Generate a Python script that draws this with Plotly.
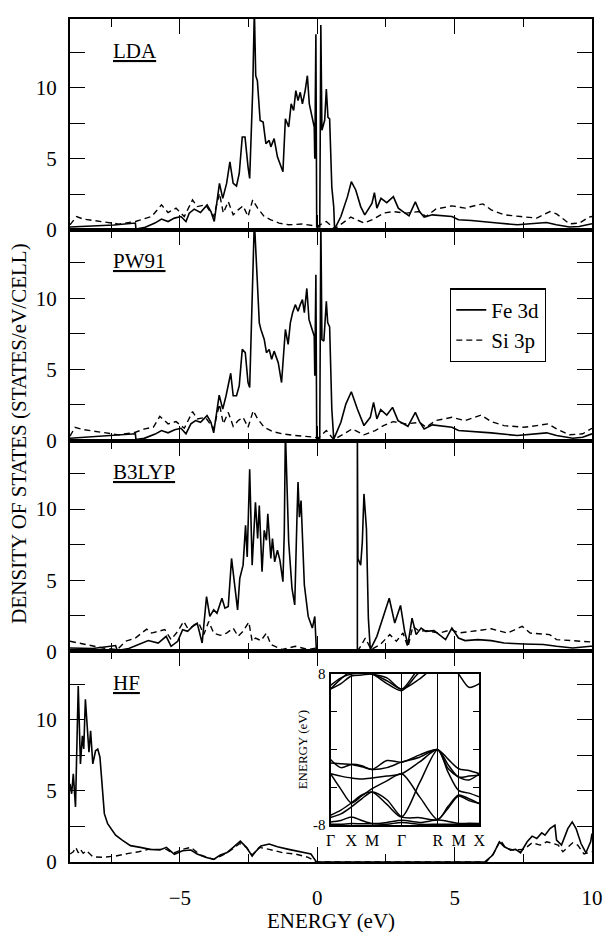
import plotly.graph_objects as go

# ---------------- DATA ----------------
LDA_FE_E = [-9.0, -8.17, -7.4, -6.62, -6.60, -6.3, -5.91, -5.67, -5.43, -5.20, -4.96, -4.78, -4.66, -4.48, -4.25, -4.01, -3.87, -3.75, -3.56, -3.44, -3.30, -3.18, -3.06, -2.94, -2.84, -2.73, -2.63, -2.52, -2.46, -2.35, -2.29, -2.24, -2.18, -2.08, -1.97, -1.87, -1.75, -1.69, -1.57, -1.45, -1.25, -1.16, -1.04, -0.95, -0.86, -0.78, -0.70, -0.62, -0.54, -0.44, -0.36, -0.29, -0.18, -0.11, -0.09, -0.05, -0.02, 0.09, 0.13, 0.17, 0.27, 0.33, 0.39, 0.45, 0.53, 0.60, 0.63, 0.86, 1.10, 1.24, 1.40, 1.58, 1.73, 1.99, 2.08, 2.17, 2.32, 2.53, 2.77, 2.95, 3.12, 3.34, 3.57, 3.72, 3.89, 4.19, 4.90, 5.14, 5.61, 6.09, 6.56, 7.28, 7.75, 8.35, 8.70, 9.18, 9.53, 9.95, 10.0]
LDA_FE_D = [0.19, 0.28, 0.33, 0.47, 0.05, 0.15, 0.47, 0.75, 0.58, 0.82, 0.93, 0.58, 1.17, 1.45, 1.21, 1.75, 1.28, 0.58, 3.26, 2.21, 3.26, 4.78, 3.26, 3.08, 3.96, 6.53, 6.53, 4.43, 3.61, 9.79, 15.5, 10.84, 10.49, 7.69, 7.58, 6.06, 6.29, 5.83, 6.41, 5.13, 4.08, 7.81, 7.23, 8.86, 8.39, 9.79, 9.09, 9.67, 8.86, 9.79, 10.84, 8.86, 7.93, 7.23, 5.0, 13.75, 0.2, 0.2, 14.4, 7.0, 7.7, 9.9, 7.9, 7.8, 3.0, 1.6, 0.05, 0.93, 2.33, 3.38, 2.8, 1.63, 1.05, 1.86, 2.61, 1.52, 2.21, 1.91, 2.33, 1.52, 1.28, 0.98, 1.96, 1.28, 0.89, 1.05, 0.93, 0.70, 0.65, 0.58, 0.47, 0.35, 0.42, 0.51, 0.35, 0.19, 0.23, 0.42, 0.42]
LDA_SI_E = [-9.0, -8.76, -8.52, -7.93, -7.22, -6.62, -6.39, -6.03, -5.67, -5.43, -5.14, -4.84, -4.54, -4.37, -4.07, -3.77, -3.56, -3.42, -3.24, -3.06, -2.88, -2.70, -2.52, -2.35, -2.17, -1.93, -1.69, -1.39, -1.04, -0.56, -0.09, 0.03, 0.33, 0.63, 0.92, 1.22, 1.70, 2.05, 2.41, 2.76, 3.24, 3.72, 3.96, 4.31, 4.90, 5.38, 5.85, 6.03, 6.33, 6.80, 7.40, 7.99, 8.47, 8.71, 9.18, 9.54, 9.89, 10.0]
LDA_SI_D = [0.35, 0.93, 0.75, 0.58, 0.40, 0.58, 0.70, 0.93, 1.75, 1.21, 1.52, 0.93, 2.10, 1.63, 1.75, 0.93, 2.56, 1.17, 1.98, 1.05, 1.40, 1.68, 0.93, 2.10, 1.52, 0.93, 0.70, 0.47, 0.35, 0.40, 0.28, 0.28, 0.58, 0.05, 0.47, 0.89, 0.47, 0.75, 1.17, 1.28, 1.17, 1.28, 0.93, 1.45, 1.68, 1.52, 1.75, 1.82, 1.40, 1.05, 0.93, 0.82, 1.28, 1.12, 0.42, 0.47, 0.89, 0.93]

PW91_FE_E = [-9.0, -8.2, -7.4, -6.62, -6.60, -6.3, -5.9, -5.67, -5.43, -5.19, -4.96, -4.78, -4.60, -4.43, -4.25, -4.01, -3.87, -3.77, -3.57, -3.44, -3.32, -3.15, -3.06, -2.94, -2.84, -2.73, -2.62, -2.52, -2.46, -2.35, -2.29, -2.19, -2.11, -2.05, -1.93, -1.85, -1.75, -1.66, -1.57, -1.42, -1.30, -1.16, -1.06, -0.98, -0.90, -0.80, -0.70, -0.62, -0.54, -0.47, -0.38, -0.30, -0.18, -0.11, -0.09, -0.05, -0.02, 0.09, 0.13, 0.17, 0.24, 0.33, 0.38, 0.45, 0.53, 0.60, 0.86, 1.04, 1.24, 1.46, 1.70, 1.93, 2.05, 2.17, 2.31, 2.53, 2.74, 2.94, 3.30, 3.57, 3.72, 3.89, 4.19, 4.90, 5.14, 5.85, 6.33, 7.28, 7.87, 8.35, 8.71, 9.30, 9.66, 10.0]
PW91_FE_D = [0.16, 0.25, 0.33, 0.47, 0.07, 0.15, 0.45, 0.70, 0.54, 0.75, 0.86, 0.47, 1.17, 1.40, 1.28, 1.75, 1.28, 0.54, 3.19, 2.21, 3.15, 4.73, 3.15, 3.15, 3.85, 6.41, 6.18, 4.08, 3.73, 10.6, 15.5, 11.5, 8.28, 7.81, 7.11, 6.18, 6.41, 5.71, 6.29, 5.48, 4.08, 7.81, 6.76, 8.28, 8.97, 9.56, 9.09, 9.56, 9.91, 9.0, 10.7, 8.5, 7.81, 7.34, 4.55, 11.66, 0.16, 0.16, 15.5, 7.1, 7.0, 9.79, 8.3, 8.0, 2.2, 0.1, 1.28, 2.56, 3.43, 2.21, 1.05, 1.63, 2.68, 1.52, 2.17, 1.79, 2.33, 1.40, 1.0, 1.98, 1.33, 0.82, 1.10, 0.93, 0.70, 0.63, 0.54, 0.35, 0.47, 0.54, 0.35, 0.16, 0.23, 0.47]
PW91_SI_E = [-9.0, -8.82, -8.52, -7.93, -7.22, -6.62, -6.27, -5.97, -5.73, -5.43, -5.14, -4.84, -4.54, -4.37, -4.07, -3.77, -3.56, -3.42, -3.24, -3.06, -2.88, -2.70, -2.52, -2.33, -2.17, -1.93, -1.63, -1.28, -0.80, -0.09, 0.03, 0.33, 0.60, 0.98, 1.27, 1.70, 2.11, 2.41, 2.76, 3.24, 3.72, 3.96, 4.31, 4.90, 5.38, 5.97, 6.33, 6.80, 7.52, 7.99, 8.41, 8.71, 9.18, 9.66, 10.0]
PW91_SI_D = [0.30, 0.93, 0.77, 0.58, 0.40, 0.58, 0.82, 0.93, 1.70, 1.17, 1.33, 0.86, 2.03, 1.52, 1.63, 0.82, 2.56, 1.17, 1.98, 1.0, 1.40, 1.63, 0.93, 2.10, 1.52, 0.93, 0.63, 0.47, 0.35, 0.23, 0.16, 0.70, 0.07, 0.47, 0.82, 0.40, 0.70, 1.05, 1.33, 1.17, 1.28, 0.93, 1.40, 1.63, 1.40, 1.79, 1.33, 1.05, 0.93, 1.05, 1.17, 0.82, 0.40, 0.47, 0.86]

B3LYP_FE_E = [-9.0, -8.17, -7.34, -7.28, -6.86, -6.50, -6.15, -5.79, -5.50, -5.32, -5.08, -4.90, -4.72, -4.48, -4.37, -4.19, -4.03, -3.91, -3.77, -3.65, -3.47, -3.36, -3.24, -3.12, -3.0, -2.90, -2.82, -2.70, -2.61, -2.55, -2.46, -2.37, -2.25, -2.17, -2.11, -2.01, -1.93, -1.85, -1.80, -1.69, -1.63, -1.55, -1.45, -1.36, -1.25, -1.20, -1.16, -1.04, -0.92, -0.82, -0.74, -0.70, -0.65, -0.59, -0.47, -0.33, -0.18, -0.09, -0.03, 1.46, 1.46, 1.48, 1.58, 1.64, 1.70, 1.75, 1.79, 1.86, 1.93, 2.17, 2.41, 2.62, 2.82, 3.03, 3.18, 3.30, 3.45, 3.60, 3.78, 3.95, 4.25, 4.43, 4.67, 4.90, 5.14, 5.38, 5.85, 6.33, 6.80, 7.52, 8.23, 8.71, 9.30, 9.95, 10.0]
B3LYP_FE_D = [0.23, 0.19, 0.40, 0.05, 0.19, 0.47, 0.75, 0.58, 1.05, 0.35, 0.70, 1.52, 1.40, 1.86, 1.98, 0.58, 3.85, 2.45, 2.91, 2.68, 3.73, 3.03, 3.15, 6.53, 4.43, 2.91, 5.13, 6.06, 8.86, 6.64, 12.8, 6.06, 10.49, 7.93, 10.26, 5.59, 8.51, 7.81, 9.67, 6.53, 7.93, 6.29, 7.11, 6.41, 4.9, 8.39, 15.5, 7.69, 4.43, 3.26, 9.32, 11.9, 9.44, 10.6, 4.66, 2.45, 1.63, 2.45, 0.0, 0.0, 15.5, 6.53, 6.06, 7.69, 11.07, 9.32, 8.62, 2.33, 0.12, 1.05, 2.56, 3.73, 1.98, 3.22, 1.40, 0.47, 2.33, 1.17, 1.63, 1.40, 1.45, 1.17, 0.82, 1.63, 0.93, 0.75, 0.82, 0.75, 0.58, 0.51, 0.47, 0.35, 0.23, 0.35, 0.35]
B3LYP_SI_E = [-9.0, -8.41, -7.81, -7.28, -6.98, -6.62, -6.21, -6.03, -5.79, -5.55, -5.32, -5.08, -4.86, -4.72, -4.54, -4.31, -4.13, -3.95, -3.77, -3.53, -3.30, -3.06, -2.88, -2.70, -2.49, -2.37, -2.25, -2.05, -1.85, -1.69, -1.28, -0.80, -0.33, -0.03, 0.0, 1.46, 1.58, 1.75, 1.96, 2.29, 2.64, 2.88, 3.12, 3.30, 3.48, 3.72, 3.95, 4.43, 4.90, 5.14, 5.61, 6.33, 6.92, 7.46, 7.75, 8.46, 8.71, 9.30, 9.95, 10.0]
B3LYP_SI_D = [0.70, 0.47, 0.23, 0.12, 0.70, 0.93, 1.56, 1.28, 1.40, 1.52, 0.82, 1.40, 2.10, 1.63, 1.75, 1.98, 1.17, 2.10, 1.28, 1.12, 1.28, 1.63, 1.05, 1.40, 2.05, 0.70, 0.93, 0.75, 1.28, 0.47, 0.12, 0.35, 0.12, 0.23, 0.0, 0.0, 0.35, 0.93, 0.12, 0.47, 1.17, 0.70, 1.28, 0.28, 1.75, 1.40, 1.45, 1.28, 1.52, 1.28, 1.40, 1.58, 1.28, 1.75, 1.28, 1.17, 0.82, 0.75, 0.65, 0.65]

HF_FE_E = [-9.0, -8.94, -8.88, -8.80, -8.70, -8.62, -8.55, -8.50, -8.44, -8.35, -8.31, -8.25, -8.17, -8.07, -7.99, -7.91, -7.84, -7.75, -7.63, -7.51, -7.34, -7.10, -6.80, -6.44, -6.09, -5.73, -5.49, -5.20, -4.90, -4.60, -4.37, -4.07, -3.77, -3.53, -3.30, -3.06, -2.80, -2.58, -2.37, -2.25, -2.05, -1.75, -1.45, -1.04, -0.56, -0.23, -0.03, 6.09, 6.39, 6.63, 6.81, 7.04, 7.22, 7.40, 7.64, 7.82, 7.99, 8.17, 8.29, 8.47, 8.65, 8.71, 8.89, 9.12, 9.28, 9.42, 9.60, 9.78, 9.95, 10.0]
HF_FE_D = [5.5, 4.8, 6.2, 3.87, 12.38, 6.9, 8.88, 7.95, 11.45, 9.23, 7.72, 9.23, 6.90, 7.83, 7.95, 7.37, 5.5, 3.4, 2.70, 2.35, 1.89, 1.54, 1.15, 1.03, 0.89, 0.84, 1.03, 0.54, 0.79, 0.84, 0.56, 0.33, 0.19, 0.49, 0.65, 1.03, 1.47, 1.03, 0.42, 0.72, 1.12, 1.26, 1.07, 0.89, 0.72, 0.56, 0.0, 0.0, 0.49, 1.42, 1.07, 0.84, 0.89, 0.65, 1.42, 1.82, 1.65, 2.05, 1.89, 2.35, 2.59, 1.54, 1.19, 2.35, 2.82, 2.35, 1.30, 0.65, 1.42, 2.0]
HF_SI_E = [-9.0, -8.88, -8.79, -8.70, -8.62, -8.52, -8.40, -8.17, -7.81, -7.34, -6.86, -6.50, -6.15, -5.79, -5.49, -5.26, -4.90, -4.60, -4.25, -3.77, -3.30, -2.82, -2.58, -2.37, -2.11, -1.75, -1.25, -0.80, -0.33, -0.03, 6.15, 6.42, 6.67, 6.86, 7.16, 7.52, 7.82, 8.11, 8.35, 8.59, 8.77, 8.94, 9.30, 9.48, 9.71, 10.0]
HF_SI_D = [0.56, 0.72, 1.03, 0.65, 0.89, 0.61, 0.79, 0.37, 0.33, 0.42, 0.61, 0.72, 0.89, 0.89, 0.89, 0.61, 0.89, 1.03, 0.49, 0.19, 0.61, 1.30, 1.03, 0.49, 1.03, 0.89, 0.65, 0.56, 0.33, 0.0, 0.0, 0.61, 1.54, 0.96, 0.84, 0.89, 1.35, 1.19, 1.42, 1.30, 1.19, 0.72, 1.35, 1.19, 0.56, 0.72]

PANEL_NAMES = ["LDA", "PW91", "B3LYP", "HF"]
SERIES_NAMES = ["Fe 3d", "Si 3p"]
X_TICKS = [-5, 0, 5, 10]
X_MINOR = [-7.5, -2.5, 2.5, 7.5]
Y_TICKS = [0, 2.5, 5, 7.5, 10, 12.5]
Y_TICKTEXT = ["0", "", "5", "", "10", ""]

# inset band structure
K_NODES = [0.0, 0.25, 0.5, 0.75, 1.0, 1.354, 1.707, 2.14, 2.573, 2.823, 3.073, 3.323, 3.573]
K_SYM = [0.0, 0.5, 1.0, 1.707, 2.573, 3.073, 3.573]
K_LABELS = ["Γ", "X", "M", "Γ", "R", "M", "X"]
BANDS = [
    [-1.04, -1.9, -1.56, -1.7, -2.09, -1.15, -1.32, -0.55, 0.0, -1.0, -2.02, -2.2, -2.55],
    [-1.42, -1.5, -1.56, -1.8, -2.09, -1.9, -1.32, -0.8, 0.0, -1.6, -2.90, -2.8, -2.7],
    [-2.55, -2.8, -3.0, -3.1, -3.0, -2.8, -2.55, -1.3, 0.0, -2.4, -4.31, -4.6, -5.0],
    [-2.55, -4.2, -5.64, -4.9, -4.13, -3.3, -2.55, -5.0, -7.40, -6.0, -4.8, -5.2, -5.71],
    [-6.94, -6.4, -5.64, -4.8, -4.48, -5.8, -7.12, -3.5, 0.0, -2.0, -2.9, -3.2, -2.55],
    [-7.19, -6.8, -6.07, -5.2, -4.48, -5.3, -7.12, -7.2, -7.40, -6.2, -4.9, -5.4, -5.71],
    [-7.65, -7.5, -7.12, -7.5, -7.82, -7.7, -7.47, -7.7, -7.45, -7.6, -7.82, -7.8, -7.82],
    [-7.9, -7.9, -7.82, -7.85, -7.85, -7.9, -7.7, -7.9, -7.9, -7.9, -7.9, -7.9, -7.9],
    [6.42, 7.0, 7.8, 7.9, 8.0, 7.3, 6.42, 7.5, 9.0, 9.0, 8.0, 6.6, 7.0],
    [6.8, 7.6, 8.0, 8.1, 8.0, 7.0, 6.25, 8.2, 9.0, 9.0, 8.2, 8.3, 8.3],
    [6.42, 7.5, 8.3, 8.3, 8.0, 7.6, 6.42, 8.6, 9.0, 9.0, 9.0, 9.0, 9.0],
]

# ---------------- FIGURE ----------------
FONT = "Liberation Serif"
W, H = 614, 932
ML, MR, MT, MB = 70, 11, 14, 70
YMAX = 14.83

panel_data = [
    (LDA_FE_E, LDA_FE_D, LDA_SI_E, LDA_SI_D),
    (PW91_FE_E, PW91_FE_D, PW91_SI_E, PW91_SI_D),
    (B3LYP_FE_E, B3LYP_FE_D, B3LYP_SI_E, B3LYP_SI_D),
    (HF_FE_E, HF_FE_D, HF_SI_E, HF_SI_D),
]

fig = go.Figure()
layout = dict(
    width=W, height=H,
    margin=dict(l=ML, r=MR, t=MT, b=MB),
    paper_bgcolor="white", plot_bgcolor="white",
    font=dict(family=FONT, size=20, color="black"),
    showlegend=True,
    legend=dict(x=(458 - ML) / 533, y=(862 - 285) / 848, xanchor="left", yanchor="top",
                bgcolor="white", bordercolor="black", borderwidth=1.3,
                font=dict(family=FONT, size=21), tracegroupgap=0, itemwidth=30),
)
annotations = []

for i, (fe_e, fe_d, si_e, si_d) in enumerate(panel_data):
    n = i + 1
    xa = "x" if n == 1 else f"x{n}"
    ya = "y" if n == 1 else f"y{n}"
    fig.add_trace(go.Scatter(x=fe_e, y=fe_d, mode="lines", name=SERIES_NAMES[0],
                             line=dict(color="black", width=1.6),
                             xaxis=xa, yaxis=ya, showlegend=(n == 2)))
    fig.add_trace(go.Scatter(x=si_e, y=si_d, mode="lines", name=SERIES_NAMES[1],
                             line=dict(color="black", width=1.4, dash="6px,4px"),
                             xaxis=xa, yaxis=ya, showlegend=(n == 2)))
    top = 1 - i * 0.25
    bot = top - 0.25
    xkey = "xaxis" if n == 1 else f"xaxis{n}"
    ykey = "yaxis" if n == 1 else f"yaxis{n}"
    layout[xkey] = dict(
        domain=[0, 1], anchor=ya, range=[-9, 10],
        tickvals=X_TICKS, ticks="inside", ticklen=15, tickwidth=1.4, tickcolor="black",
        showticklabels=(n == 4), ticklabelstandoff=16,
        minor=dict(tickvals=X_MINOR, ticks="inside", ticklen=8, tickwidth=1.4, tickcolor="black"),
        showline=True, linecolor="black", linewidth=2, mirror="ticks",
        showgrid=False, zeroline=False,
        tickfont=dict(family=FONT, size=21),
    )
    if n != 1:
        layout[xkey]["matches"] = "x"
    layout[ykey] = dict(
        domain=[bot, top], anchor=xa, range=[0, YMAX],
        tickvals=Y_TICKS, ticktext=Y_TICKTEXT, ticks="inside", ticklen=15, tickwidth=1.4,
        tickcolor="black", ticklabelstandoff=7,
        showline=True, linecolor="black", linewidth=2, mirror="ticks",
        showgrid=False, zeroline=False,
        tickfont=dict(family=FONT, size=21),
    )
    annotations.append(dict(text=f"<u>{PANEL_NAMES[i]}</u>", x=-7.5, y=12.6, xref=xa, yref=ya,
                            xanchor="left", yanchor="middle", showarrow=False,
                            font=dict(family=FONT, size=21)))

# inset
for b in BANDS:
    fig.add_trace(go.Scatter(x=K_NODES, y=b, mode="lines", showlegend=False,
                             line=dict(color="black", width=1.5, shape="spline", smoothing=0.8),
                             xaxis="x5", yaxis="y5"))
layout["xaxis5"] = dict(
    domain=[(336 - ML) / 533, (488 - ML) / 533], anchor="y5", range=[0, K_SYM[-1]],
    tickvals=K_SYM, ticktext=K_LABELS, ticks="", showgrid=True, gridcolor="black", gridwidth=1.2,
    showline=True, linecolor="black", linewidth=2, mirror=True, zeroline=False,
    tickfont=dict(family=FONT, size=16), ticklabelstandoff=0,
)
layout["yaxis5"] = dict(
    domain=[(862 - 825) / 848, (862 - 673) / 848], anchor="x5", range=[-8, 8],
    tickvals=[-8, -4, 0, 4, 8], ticktext=["-8", "", "", "", "8"], ticks="inside", ticklen=6,
    tickcolor="black", showline=True, linecolor="black", linewidth=2, mirror="ticks",
    showgrid=False, zeroline=False, tickfont=dict(family=FONT, size=15),
    title=dict(text="ENERGY (eV)", font=dict(family=FONT, size=13), standoff=2),
)

annotations.append(dict(text="ENERGY (eV)", x=(336 - ML) / 533, y=(862 - 921) / 848,
                        xref="paper", yref="paper", showarrow=False, xanchor="center",
                        yanchor="middle", font=dict(family=FONT, size=21)))
annotations.append(dict(text="DENSITY OF STATES (STATES/eV/CELL)", x=(17 - ML) / 533,
                        y=(862 - 431) / 848, xref="paper", yref="paper", showarrow=False,
                        xanchor="center", yanchor="middle", textangle=-90,
                        font=dict(family=FONT, size=21)))
layout["annotations"] = annotations
fig.update_layout(**layout)
fig.write_html("out.html")
